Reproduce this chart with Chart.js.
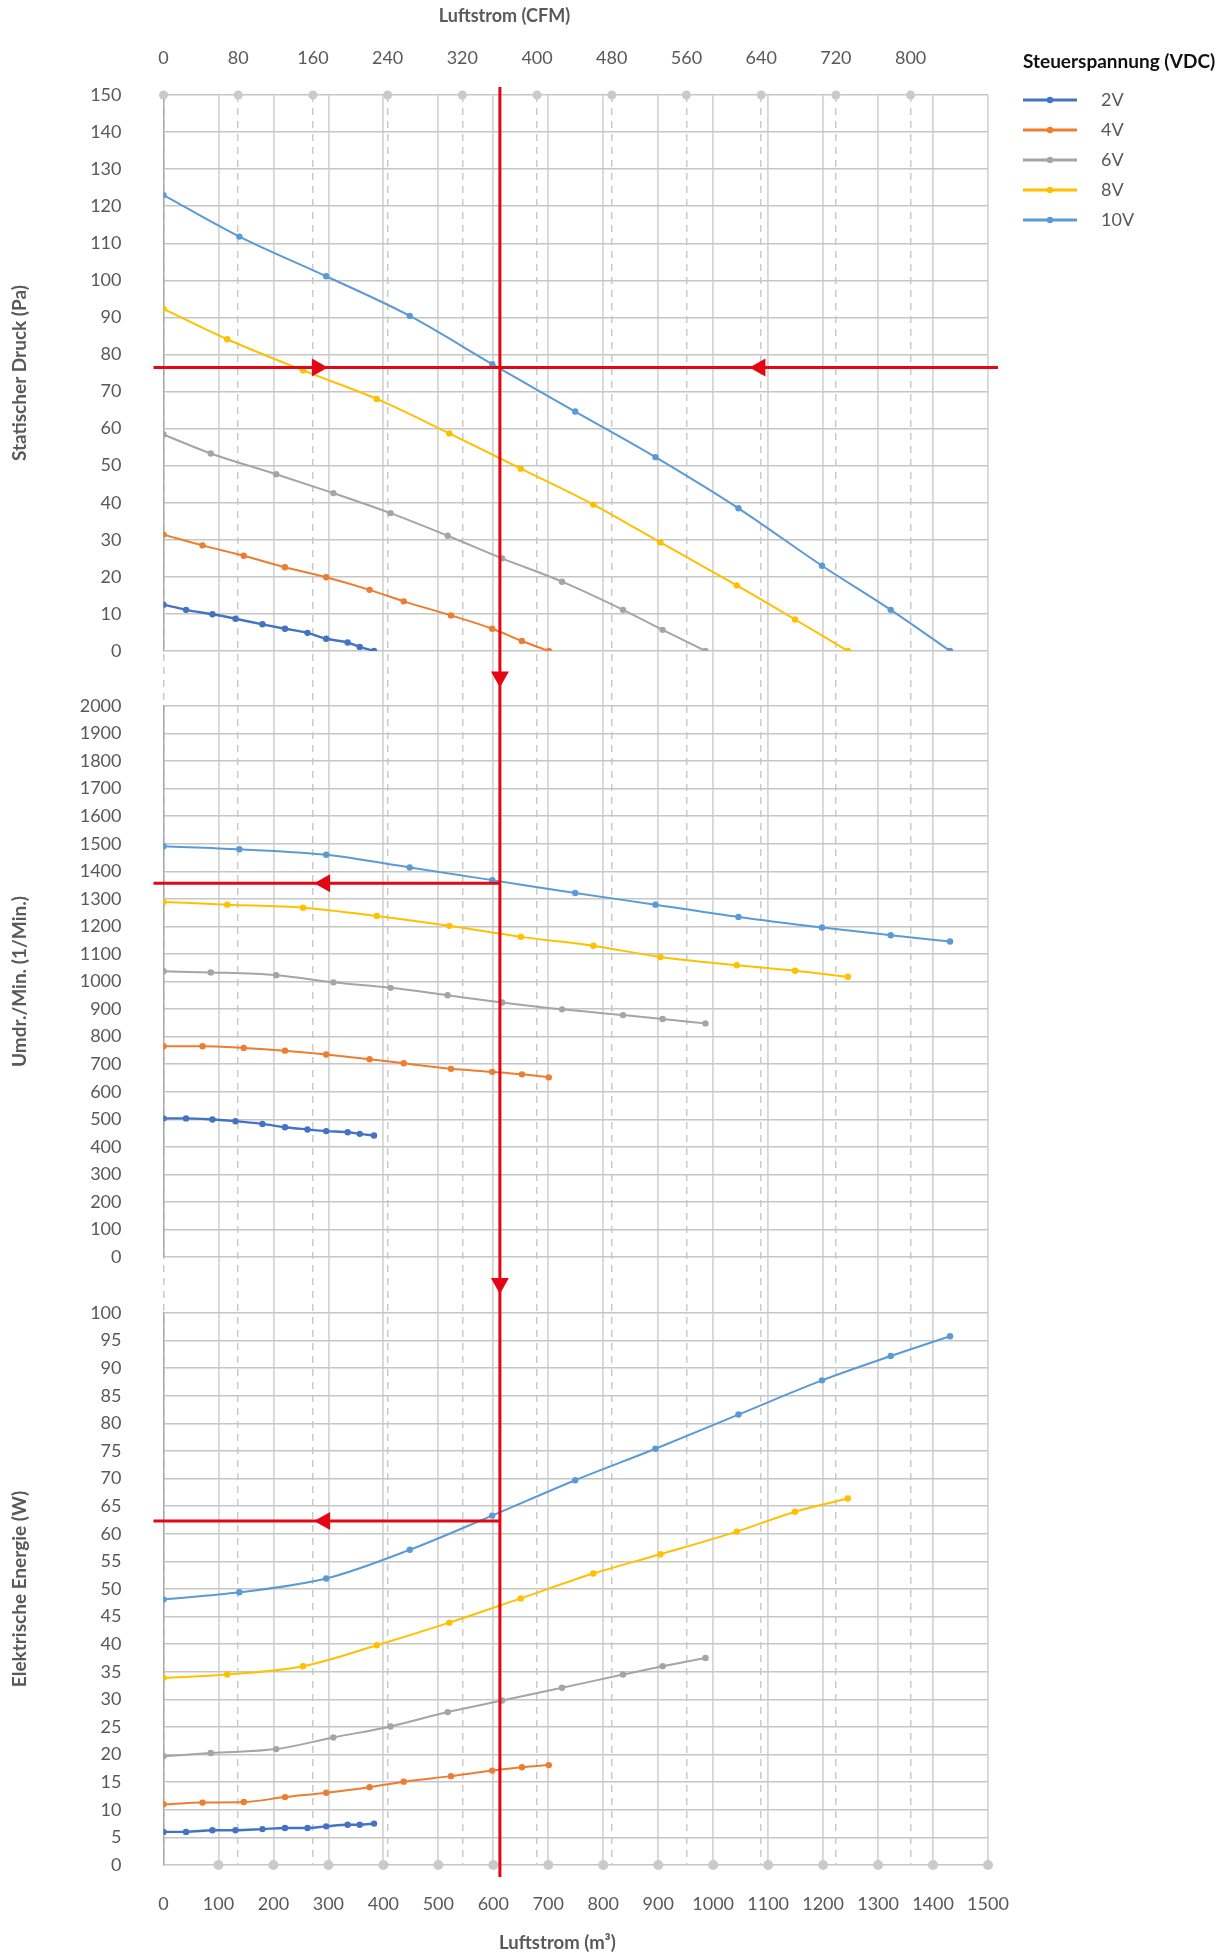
<!DOCTYPE html>
<html lang="de">
<head>
<meta charset="utf-8">
<title>Ventilator-Kennlinien</title>
<script src="https://cdn.jsdelivr.net/npm/chart.js@4/dist/chart.umd.min.js"></script>
<style>
  html, body { margin: 0; padding: 0; background: #ffffff; }
  #wrap { position: relative; width: 1227px; height: 1955px; }
  canvas { display: block; }
</style>
</head>
<body>
<div id="wrap"><canvas id="fan" width="1227" height="1955"></canvas></div>
<script>
// ---- Series (control voltage) ----
const voltages = ['2V', '4V', '6V', '8V', '10V'];
const seriesColors = ['#4472C4', '#ED7D31', '#A5A5A5', '#FFC000', '#5B9BD5'];

// ---- Airflow at each measuring point (m³/h) ----
const flow2V  = [0, 41, 89, 131, 180, 221, 262, 296, 335, 357, 383];
const flow4V  = [0, 71, 146, 221, 296, 375, 437, 523, 598, 652, 701];
const flow6V  = [0, 86, 205, 309, 413, 517, 616, 725, 836, 908, 986];
const flow8V  = [0, 116, 254, 388, 520, 650, 782, 904, 1043, 1149, 1245];
const flow10V = [0, 138, 296, 448, 598, 749, 895, 1046, 1198, 1323, 1431];

// ---- Static pressure (Pa) ----
const pressure2V  = [12.5, 11.1, 9.9, 8.7, 7.2, 6.0, 4.9, 3.3, 2.3, 1.1, 0];
const pressure4V  = [31.4, 28.5, 25.7, 22.6, 19.9, 16.5, 13.4, 9.6, 6.0, 2.7, 0];
const pressure6V  = [58.4, 53.3, 47.7, 42.6, 37.2, 31.1, 25.0, 18.7, 11.1, 5.7, 0];
const pressure8V  = [92.3, 84.1, 75.7, 68.0, 58.7, 49.2, 39.5, 29.3, 17.7, 8.5, 0];
const pressure10V = [123.0, 111.8, 101.1, 90.4, 77.4, 64.6, 52.3, 38.5, 23.0, 11.1, 0];

// ---- Fan speed (1/min) ----
const speed2V  = [503, 503, 499, 493, 483, 471, 463, 457, 453, 447, 441];
const speed4V  = [765, 765, 759, 749, 735, 718, 703, 683, 672, 663, 652];
const speed6V  = [1037, 1033, 1023, 997, 977, 950, 924, 899, 878, 864, 848];
const speed8V  = [1289, 1279, 1268, 1238, 1202, 1162, 1130, 1089, 1059, 1039, 1017];
const speed10V = [1491, 1480, 1460, 1414, 1368, 1321, 1279, 1234, 1196, 1168, 1145];

// ---- Electrical power (W) ----
const power2V  = [6.0, 6.0, 6.3, 6.3, 6.5, 6.7, 6.7, 7.0, 7.3, 7.3, 7.5];
const power4V  = [11.0, 11.3, 11.4, 12.3, 13.1, 14.1, 15.1, 16.1, 17.1, 17.7, 18.1];
const power6V  = [19.7, 20.3, 21.0, 23.1, 25.1, 27.7, 29.8, 32.1, 34.5, 36.0, 37.5];
const power8V  = [33.9, 34.5, 36.0, 39.8, 43.9, 48.3, 52.8, 56.3, 60.4, 64.0, 66.4];
const power10V = [48.1, 49.4, 51.9, 57.1, 63.3, 69.7, 75.4, 81.6, 87.8, 92.2, 95.8];

// ---- Axis ticks ----
const cfmTicks = [0, 80, 160, 240, 320, 400, 480, 560, 640, 720, 800];
const M3H_PER_CFM = 1.699;

// ---- Marked operating point ----
const opFlow = 612;
const opPressure = 76.5;
const opSpeed = 1357;
const opPower = 62.3;

const flows = [flow2V, flow4V, flow6V, flow8V, flow10V];
const pressures = [pressure2V, pressure4V, pressure6V, pressure8V, pressure10V];
const speeds = [speed2V, speed4V, speed6V, speed8V, speed10V];
const powers = [power2V, power4V, power6V, power8V, power10V];

const FONT = 'Lato';
const TEXT = '#595959';
const RED = '#E30613';
const plainNumber = v => String(v);

function makeSet(i, values, axisId) {
  const c = seriesColors[i];
  return {
    label: voltages[i],
    data: flows[i].map((x, k) => ({ x, y: values[k] })),
    xAxisID: 'x',
    yAxisID: axisId,
    showLine: true,
    borderColor: c,
    backgroundColor: c,
    borderWidth: i === 0 ? 2.4 : 2,
    pointRadius: 3.2,
    pointBorderWidth: 0,
    pointBackgroundColor: c,
    cubicInterpolationMode: 'monotone'
  };
}

const datasets = [];
voltages.forEach((v, i) => datasets.push(makeSet(i, pressures[i], 'yP')));
voltages.forEach((v, i) => datasets.push(makeSet(i, speeds[i], 'yR')));
voltages.forEach((v, i) => datasets.push(makeSet(i, powers[i], 'yW')));

// Width reserved for the stacked left axes
const LEFT_W = 163.5;

function panelAxis(weight, min, max, step, title) {
  return {
    type: 'linear',
    position: 'left',
    stack: 'panels',
    stackWeight: weight,
    min, max,
    grid: { color: '#c6c6c6', lineWidth: 1.5, drawTicks: false },
    border: { display: true, color: '#a8a8a8', width: 1.5 },
    ticks: {
      stepSize: step, padding: 42, color: TEXT, autoSkip: false,
      callback: plainNumber,
      font: { family: FONT, size: 18 }
    },
    title: {
      display: true, text: title, color: TEXT,
      font: { family: FONT, size: 19, weight: 'bold' },
      padding: { top: 8, bottom: 0 }
    },
    afterFit: s => { s.width = LEFT_W; }
  };
}

function gapAxis(weight) {
  return {
    type: 'linear',
    position: 'left',
    stack: 'panels',
    stackWeight: weight,
    min: 0, max: 1,
    grid: { display: false, drawTicks: false },
    border: { display: false },
    ticks: { display: false },
    afterFit: s => { s.width = LEFT_W; }
  };
}

// Grey markers sitting on the outer axis lines
const axisDots = {
  id: 'axisDots',
  beforeDatasetsDraw(chart) {
    const { ctx, chartArea, scales } = chart;
    ctx.save();
    ctx.fillStyle = '#cacaca';
    scales.x.ticks.forEach(t => {
      if (t.value === 0) return;
      ctx.beginPath();
      ctx.arc(scales.x.getPixelForValue(t.value), chartArea.bottom, 5, 0, Math.PI * 2);
      ctx.fill();
    });
    scales.x2.ticks.forEach(t => {
      ctx.beginPath();
      ctx.arc(scales.x2.getPixelForValue(t.value), chartArea.top, 4.5, 0, Math.PI * 2);
      ctx.fill();
    });
    ctx.restore();
  }
};

function arrowHead(ctx, x, y, dir) {
  const len = 16, half = 9;
  ctx.beginPath();
  if (dir === 'right') {
    ctx.moveTo(x, y); ctx.lineTo(x - len, y - half); ctx.lineTo(x - len, y + half);
  } else if (dir === 'left') {
    ctx.moveTo(x, y); ctx.lineTo(x + len, y - half); ctx.lineTo(x + len, y + half);
  } else {
    ctx.moveTo(x, y); ctx.lineTo(x - half, y - len); ctx.lineTo(x + half, y - len);
  }
  ctx.closePath();
  ctx.fill();
}

// Red guide lines through the operating point
const operatingPoint = {
  id: 'operatingPoint',
  afterDatasetsDraw(chart) {
    const { ctx, chartArea, scales } = chart;
    const X = scales.x, yP = scales.yP, yR = scales.yR, yW = scales.yW;
    const xOp = X.getPixelForValue(opFlow);
    const pY = yP.getPixelForValue(opPressure);
    const rY = yR.getPixelForValue(opSpeed);
    const wY = yW.getPixelForValue(opPower);
    const left = chartArea.left - 10;
    ctx.save();
    ctx.strokeStyle = RED;
    ctx.fillStyle = RED;
    ctx.lineWidth = 3;
    ctx.beginPath();
    ctx.moveTo(xOp, chartArea.top - 8); ctx.lineTo(xOp, chartArea.bottom + 12);
    ctx.moveTo(left, pY); ctx.lineTo(chartArea.right + 10, pY);
    ctx.moveTo(left, rY); ctx.lineTo(xOp, rY);
    ctx.moveTo(left, wY); ctx.lineTo(xOp, wY);
    ctx.stroke();
    arrowHead(ctx, X.getPixelForValue(299), pY, 'right');
    arrowHead(ctx, X.getPixelForValue(1066), pY, 'left');
    arrowHead(ctx, X.getPixelForValue(274), rY, 'left');
    arrowHead(ctx, X.getPixelForValue(274), wY, 'left');
    arrowHead(ctx, xOp, (yP.bottom + yR.top) / 2 + 9, 'down');
    arrowHead(ctx, xOp, (yR.bottom + yW.top) / 2 + 9, 'down');
    ctx.restore();
  }
};

// Legend and outer axis captions
const legendAndCaptions = {
  id: 'legendAndCaptions',
  afterDraw(chart) {
    const { ctx, chartArea } = chart;
    ctx.save();
    ctx.textBaseline = 'middle';
    ctx.fillStyle = TEXT;
    ctx.textAlign = 'center';
    ctx.font = `bold 18px ${FONT}`;
    ctx.fillText('Luftstrom (CFM)', chartArea.left + 341, 16);
    ctx.font = `bold 18.5px ${FONT}`;
    ctx.fillText('Luftstrom (m³)', chartArea.left + 394, 1943);

    const lx = chartArea.right + 35;
    ctx.textAlign = 'left';
    ctx.fillStyle = '#111111';
    ctx.font = `bold 19px ${FONT}`;
    ctx.fillText('Steuerspannung (VDC)', lx, 62);
    ctx.font = `18px ${FONT}`;
    for (let i = 0; i < voltages.length; i++) {
      const ds = chart.data.datasets[i];
      const y = 100 + i * 30;
      ctx.strokeStyle = ds.borderColor;
      ctx.lineWidth = 3;
      ctx.beginPath();
      ctx.moveTo(lx, y); ctx.lineTo(lx + 54, y);
      ctx.stroke();
      ctx.fillStyle = ds.borderColor;
      ctx.beginPath();
      ctx.arc(lx + 27, y, 3.2, 0, Math.PI * 2);
      ctx.fill();
      ctx.fillStyle = TEXT;
      ctx.fillText(ds.label, lx + 78, y);
    }
    ctx.restore();
  }
};

new Chart(document.getElementById('fan'), {
  type: 'scatter',
  data: { datasets },
  plugins: [axisDots, operatingPoint, legendAndCaptions],
  options: {
    responsive: false,
    animation: false,
    events: [],
    layout: { padding: { left: 0, right: 239, top: 0, bottom: 0 } },
    plugins: { legend: { display: false }, tooltip: { enabled: false } },
    scales: {
      x: {
        type: 'linear',
        position: 'bottom',
        min: 0, max: 1500,
        grid: {
          color: c => (c.tick && c.tick.value === 0) ? 'rgba(0,0,0,0)' : '#d6d6d6',
          lineWidth: 1.8, drawTicks: false
        },
        border: { display: false },
        ticks: {
          stepSize: 100, padding: 28, color: TEXT, autoSkip: false,
          maxRotation: 0, callback: plainNumber,
          font: { family: FONT, size: 18 }
        },
        afterFit: s => { s.height = 90; }
      },
      x2: {
        type: 'linear',
        position: 'top',
        min: 0, max: 1500 / M3H_PER_CFM,
        grid: { color: '#cbcbcb', lineWidth: 1.5, drawTicks: false },
        border: { display: false, dash: [7, 6] },
        ticks: {
          padding: 26, color: TEXT, autoSkip: false, maxRotation: 0,
          callback: plainNumber,
          font: { family: FONT, size: 18 }
        },
        afterBuildTicks: s => { s.ticks = cfmTicks.map(v => ({ value: v })); },
        afterFit: s => { s.height = 95; }
      },
      yW: panelAxis(552, 0, 100, 5, 'Elektrische Energie (W)'),
      gapB: gapAxis(56),
      yR: panelAxis(551, 0, 2000, 100, 'Umdr./Min. (1/Min.)'),
      gapA: gapAxis(55),
      yP: panelAxis(556, 0, 150, 10, 'Statischer Druck (Pa)')
    }
  }
});
</script>
</body>
</html>
